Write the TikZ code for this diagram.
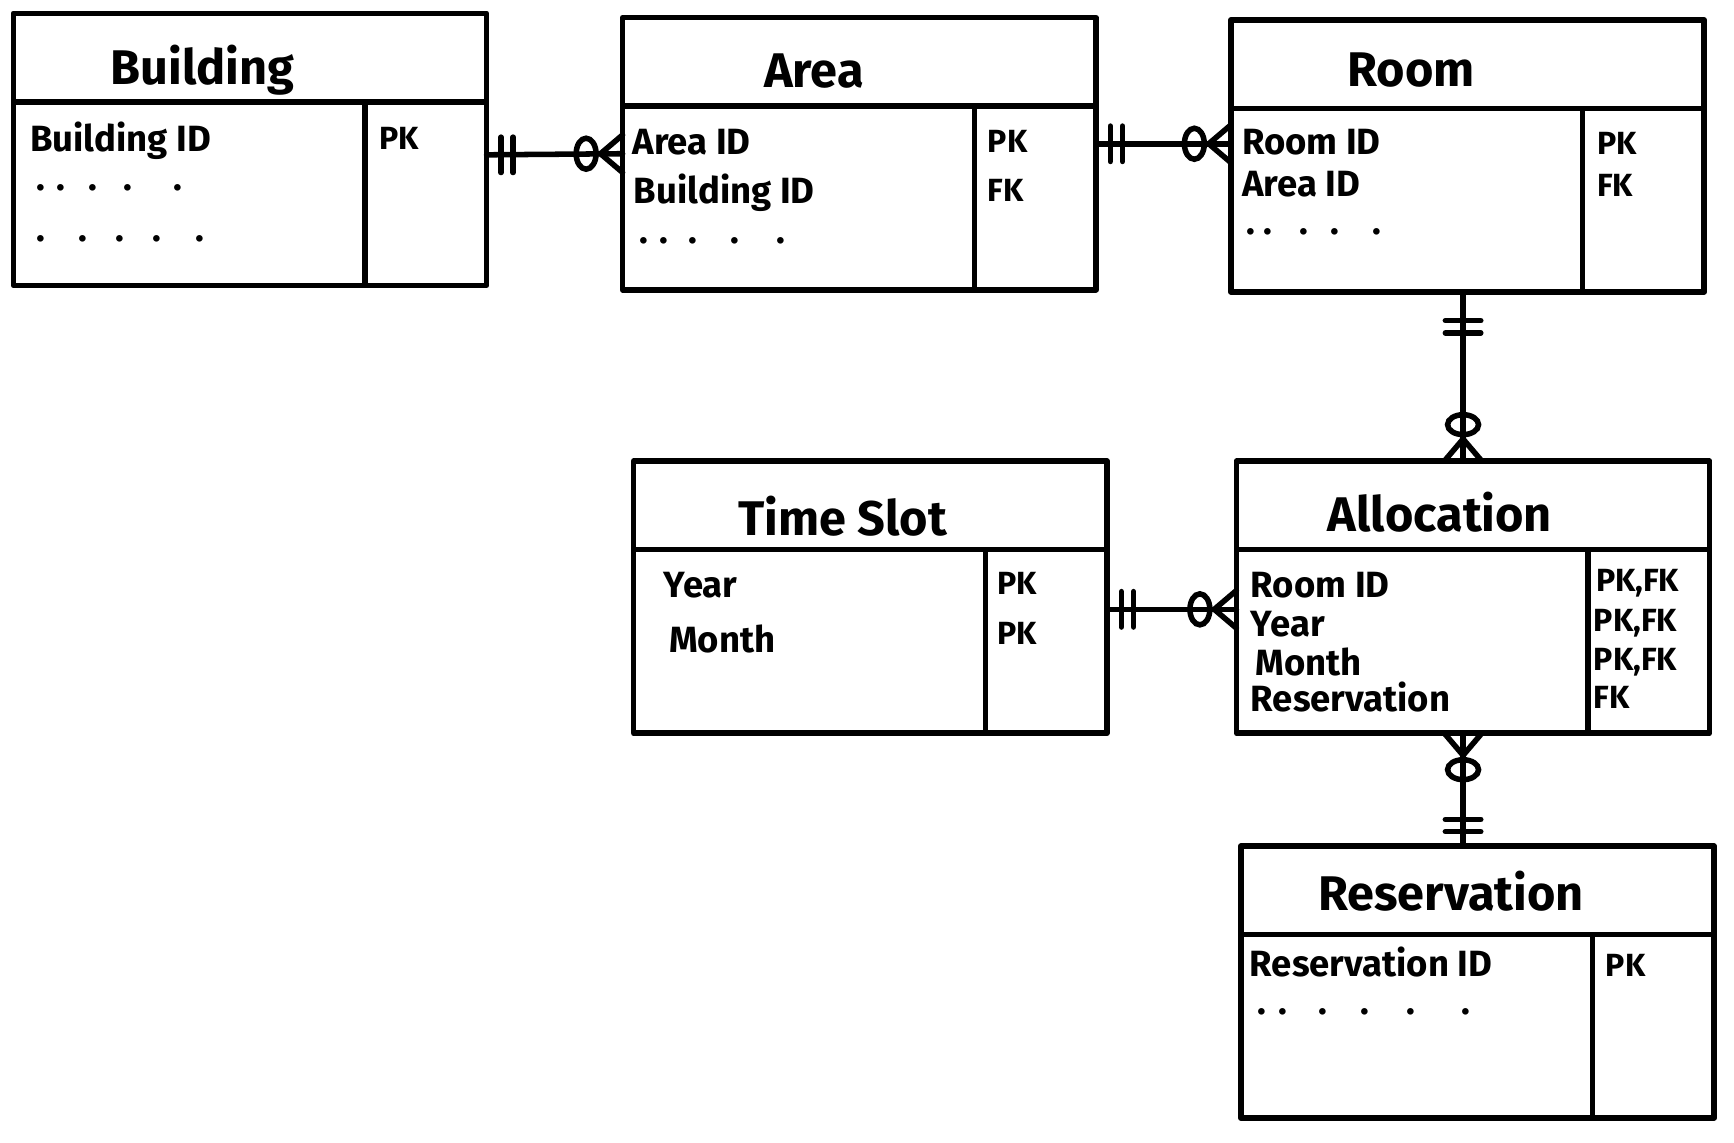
\documentclass[tikz,border=0pt]{standalone}
\usepackage{fontspec}
\setmainfont{Fira Sans}

\tikzset{
  box/.style={draw, line width=5pt, line join=round, outer sep=0pt, inner sep=0pt},
  head/.style={box, minimum width=428pt, minimum height=80pt},
  attrbox/.style={box, anchor=north west, minimum width=318pt, minimum height=166pt},
  keybox/.style={box, anchor=north west, minimum width=110pt, minimum height=166pt},
  title/.style={anchor=base, inner sep=0pt, font=\fontsize{44}{50}\selectfont\bfseries},
  field/.style={anchor=base west, inner sep=0pt, font=\fontsize{33}{38}\selectfont\bfseries},
  keyfld/.style={anchor=base west, inner sep=0pt, font=\fontsize{29}{34}\selectfont\bfseries},
  link/.style={line width=5pt, line cap=round},
  % two bars: exactly one
  mand/.pic={\draw[link] (13,-16) -- (13,16) (24,-16) -- (24,16);},
  % circle and crow's foot: zero or many
  optmany/.pic={\draw[link] (33,0) ellipse (9pt and 14pt) (0,-17) -- (20,0) -- (0,17);}
}

\begin{document}
\begin{tikzpicture}[x=1pt, y=-1pt]
\useasboundingbox[fill=white] (0,0) rectangle (1568,1033);

% Building
\node[head] (building) at (226,52) {};
\node[attrbox] (building-attr) at (building.south west) {};
\node[keybox] (building-key) at (building-attr.north east) {};
\node[title] (building-t) at (183,76) {Building};
\node[field] (building-f1) at (27,137) {Building ID};
\node[field] (building-f2) at (33,172) {.\hspace{10pt}.\hspace{21pt}.\hspace{24pt}.\hspace{37pt}.};
\node[field] (building-f3) at (33,218) {.\hspace{30pt}.\hspace{25pt}.\hspace{26pt}.\hspace{31pt}.};
\node[keyfld] (building-k1) at (343,135) {PK};

% Area
\node[head] (area) at (777,56) {};
\node[attrbox] (area-attr) at (area.south west) {};
\node[keybox] (area-key) at (area-attr.north east) {};
\node[title] (area-t) at (736,79) {Area};
\node[field] (area-f1) at (572,140) {Area ID};
\node[field] (area-f2) at (573,184) {Building ID};
\node[field] (area-f3) at (578,220) {.\hspace{10pt}.\hspace{19pt}.\hspace{30pt}.\hspace{33pt}.};
\node[keyfld] (area-k1) at (893,138) {PK};
\node[keyfld] (area-k2) at (893,182) {FK};

% Room
\node[head] (room) at (1327,58) {};
\node[attrbox] (room-attr) at (room.south west) {};
\node[keybox] (room-key) at (room-attr.north east) {};
\node[title] (room-t) at (1276,78) {Room};
\node[field] (room-f1) at (1123,140) {Room ID};
\node[field] (room-f2) at (1123,178) {Area ID};
\node[field] (room-f3) at (1127,212) {.\hspace{7pt}.\hspace{25pt}.\hspace{20pt}.\hspace{30pt}.};
\node[keyfld] (room-k1) at (1444,140) {PK};
\node[keyfld] (room-k2) at (1444,178) {FK};

% Time Slot
\node[head] (timeslot) at (787,457) {};
\node[attrbox] (timeslot-attr) at (timeslot.south west) {};
\node[keybox] (timeslot-key) at (timeslot-attr.north east) {};
\node[title] (timeslot-t) at (762,484) {Time Slot};
\node[field] (timeslot-f1) at (600,540) {Year};
\node[field] (timeslot-f2) at (605,590) {Month};
\node[keyfld] (timeslot-k1) at (902,538) {PK};
\node[keyfld] (timeslot-k2) at (902,583) {PK};

% Allocation
\node[head] (allocation) at (1332,457) {};
\node[attrbox] (allocation-attr) at (allocation.south west) {};
\node[keybox] (allocation-key) at (allocation-attr.north east) {};
\node[title] (allocation-t) at (1302,481) {Allocation};
\node[field] (allocation-f1) at (1131,540) {Room ID};
\node[field] (allocation-f2) at (1131,576) {Year};
\node[field] (allocation-f3) at (1135,611) {Month};
\node[field] (allocation-f4) at (1131,643) {Reservation};
\node[keyfld] (allocation-k1) at (1443,535) {PK,FK};
\node[keyfld] (allocation-k2) at (1441,571) {PK,FK};
\node[keyfld] (allocation-k3) at (1441,606) {PK,FK};
\node[keyfld] (allocation-k4) at (1441,641) {FK};

% Reservation
\node[head] (reservation) at (1336,805) {};
\node[attrbox] (reservation-attr) at (reservation.south west) {};
\node[keybox] (reservation-key) at (reservation-attr.north east) {};
\node[title] (reservation-t) at (1312,823) {Reservation};
\node[field] (reservation-f1) at (1130,883) {Reservation ID};
\node[field] (reservation-f2) at (1137,917) {.\hspace{11pt}.\hspace{28pt}.\hspace{30pt}.\hspace{34pt}.\hspace{42pt}.};
\node[keyfld] (reservation-k1) at (1452,883) {PK};

% relations
\draw[link] ([yshift=-48pt]building-key.north east) coordinate (ba1) -- ([yshift=-43pt]area-attr.north west) coordinate (ba2);
\pic at (ba1) {mand};
\pic[rotate=180] at (ba2) {optmany};

\draw[link] ([yshift=-34pt]area-key.north east) coordinate (ar1) -- ([yshift=-32pt]room-attr.north west) coordinate (ar2);
\pic at (ar1) {mand};
\pic[rotate=180] at (ar2) {optmany};

\draw[link] ([xshift=210pt]room-attr.south west) coordinate (ra1) -- (ra1 |- allocation.north) coordinate (ra2);
\pic[rotate=-90, shift={(13,0)}] at (ra1) {mand};
\pic[rotate=90] at (ra2) {optmany};

\draw[link] ([yshift=-54pt]timeslot-key.north east) coordinate (ta1) -- ([yshift=-54pt]allocation-attr.north west) coordinate (ta2);
\pic at (ta1) {mand};
\pic[rotate=180] at (ta2) {optmany};

\draw[link] ([xshift=205pt]allocation-attr.south west) coordinate (ar3) -- (ar3 |- reservation.north) coordinate (ar4);
\pic[rotate=-90] at (ar3) {optmany};
\pic[rotate=90] at (ar4) {mand};
\end{tikzpicture}
\end{document}
